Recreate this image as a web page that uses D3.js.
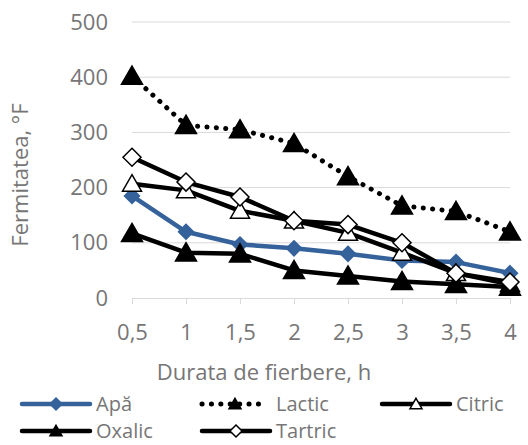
<!DOCTYPE html>
<html>
<head>
<meta charset="utf-8">
<script src="https://cdn.jsdelivr.net/npm/d3@7"></script>
<style>
  body { margin: 0; background: #fff; }
  svg { display: block; font-family: "Open Sans", sans-serif; }
</style>
</head>
<body>
<div id="chart"></div>
<script>
// data
var categories = ["0,5", "1", "1,5", "2", "2,5", "3", "3,5", "4"];
var yTicks = [0, 100, 200, 300, 400, 500];
var apa     = [185, 120, 97, 90, 80, 68, 65, 45];
var lactic  = [402, 313, 305, 280, 220, 167, 157, 120];
var citric  = [207, 195, 158, 140, 118, 82, 45, 25];
var oxalic  = [117, 82, 80, 50, 40, 30, 25, 20];
var tartric = [255, 210, 183, 140, 133, 100, 45, 29];

var seriesNames = ["Apă", "Lactic", "Citric", "Oxalic", "Tartric"];

var series = [
  { name: seriesNames[0], values: apa,     color: "#35629a", marker: "diamond", fill: "#35629a", dotted: false },
  { name: seriesNames[1], values: lactic,  color: "#000", marker: "triangle", fill: "#000", dotted: true },
  { name: seriesNames[2], values: citric,  color: "#000", marker: "triangle", fill: "#fff", dotted: false },
  { name: seriesNames[3], values: oxalic,  color: "#000", marker: "triangle", fill: "#000", dotted: false },
  { name: seriesNames[4], values: tartric, color: "#000", marker: "diamond", fill: "#fff", dotted: false }
];

var width = 528, height = 445;
var textColor = "#767676";
var fontSize = "22px";

var svg = d3.select("#chart").append("svg")
  .attr("width", width)
  .attr("height", height);

var x = d3.scalePoint().domain(categories).range([132, 510]);
var y = d3.scaleLinear().domain([0, 500]).range([298, 22]);

// gridlines
svg.append("g").selectAll("line")
  .data(yTicks.filter(function(d) { return d > 0; }))
  .enter().append("line")
  .attr("x1", 132).attr("x2", 510)
  .attr("y1", function(d) { return y(d); })
  .attr("y2", function(d) { return y(d); })
  .attr("stroke", "#d9d9d9")
  .attr("stroke-width", 1);

// y axis labels
var yAxis = svg.append("g")
  .attr("transform", "translate(123,0)")
  .call(d3.axisLeft(y).tickValues(yTicks).tickSize(0).tickPadding(15));
yAxis.select(".domain").remove();
yAxis.selectAll("text")
  .style("font-family", "Open Sans")
  .style("font-size", fontSize)
  .attr("fill", textColor);

// x axis
var xAxis = svg.append("g")
  .attr("transform", "translate(0," + y(0) + ")")
  .call(d3.axisBottom(x).tickSizeInner(6).tickSizeOuter(0).tickPadding(20));
xAxis.select(".domain").attr("stroke", "#d9d9d9");
xAxis.selectAll(".tick line").attr("stroke", "#d9d9d9");
xAxis.selectAll("text")
  .style("font-family", "Open Sans")
  .style("font-size", fontSize)
  .attr("fill", textColor);

// axis titles
svg.append("text")
  .attr("x", 264).attr("y", 380)
  .attr("text-anchor", "middle")
  .style("font-size", fontSize)
  .attr("fill", textColor)
  .text("Durata de fierbere, h");

svg.append("text")
  .attr("transform", "translate(28,175) rotate(-90)")
  .attr("text-anchor", "middle")
  .style("font-size", fontSize)
  .attr("fill", textColor)
  .text("Fermitatea, °F");

// marker shapes
function markerPath(type, s) {
  if (type === "diamond") {
    return "M0," + (-s) + "L" + s + ",0L0," + s + "L" + (-s) + ",0Z";
  }
  var h = s * Math.sqrt(3) / 2;
  return "M0," + (-h * 0.55) + "L" + (s / 2) + "," + (h * 0.45) + "L" + (-s / 2) + "," + (h * 0.45) + "Z";
}

function markerSize(d, legend) {
  if (d.marker === "diamond") {
    if (d.fill === "#fff") return legend ? 6 : 9;
    return legend ? 6 : 7.5;
  }
  if (d.fill === "#fff") return legend ? 12 : 19;
  return legend ? 12 : 21;
}

var line = d3.line()
  .x(function(d, i) { return x(categories[i]); })
  .y(function(d) { return y(d); });

series.forEach(function(s) {
  var g = svg.append("g");
  g.append("path")
    .attr("d", line(s.values))
    .attr("fill", "none")
    .attr("stroke", s.color)
    .attr("stroke-width", s.dotted ? 5 : 4.5)
    .attr("stroke-linecap", "round")
    .attr("stroke-linejoin", "round")
    .attr("stroke-dasharray", s.dotted ? "0.1 9.3" : null);

  g.selectAll("path.m")
    .data(s.values)
    .enter().append("path")
    .attr("class", "m")
    .attr("transform", function(d, i) { return "translate(" + x(categories[i]) + "," + y(d) + ")"; })
    .attr("d", markerPath(s.marker, markerSize(s, false)))
    .attr("fill", s.fill)
    .attr("stroke", s.color)
    .attr("stroke-width", 1.5)
    .attr("stroke-linejoin", "miter");
});

// legend
var legendPos = [
  { x: 20, y: 404 }, { x: 200, y: 404 }, { x: 380, y: 404 },
  { x: 20, y: 431 }, { x: 200, y: 431 }
];

var legend = svg.append("g").selectAll("g")
  .data(series)
  .enter().append("g")
  .attr("transform", function(d, i) { return "translate(" + legendPos[i].x + "," + legendPos[i].y + ")"; });

legend.append("line")
  .attr("x1", 2)
  .attr("x2", function(d) { return d.dotted ? 66 : 70; })
  .attr("stroke", function(d) { return d.color; })
  .attr("stroke-width", function(d) { return d.dotted ? 5 : 4.5; })
  .attr("stroke-linecap", "round")
  .attr("stroke-dasharray", function(d) { return d.dotted ? "0.1 9.3" : null; });

legend.append("path")
  .attr("transform", function(d) { return "translate(" + (d.dotted ? 35 : 36) + ",0)"; })
  .attr("d", function(d) { return markerPath(d.marker, markerSize(d, true)); })
  .attr("fill", function(d) { return d.fill; })
  .attr("stroke", function(d) { return d.color; })
  .attr("stroke-width", 1.5);

legend.append("text")
  .attr("x", 76)
  .attr("y", 0)
  .attr("dy", "0.35em")
  .style("font-size", "20px")
  .attr("fill", textColor)
  .text(function(d) { return d.name; });
</script>
</body>
</html>
